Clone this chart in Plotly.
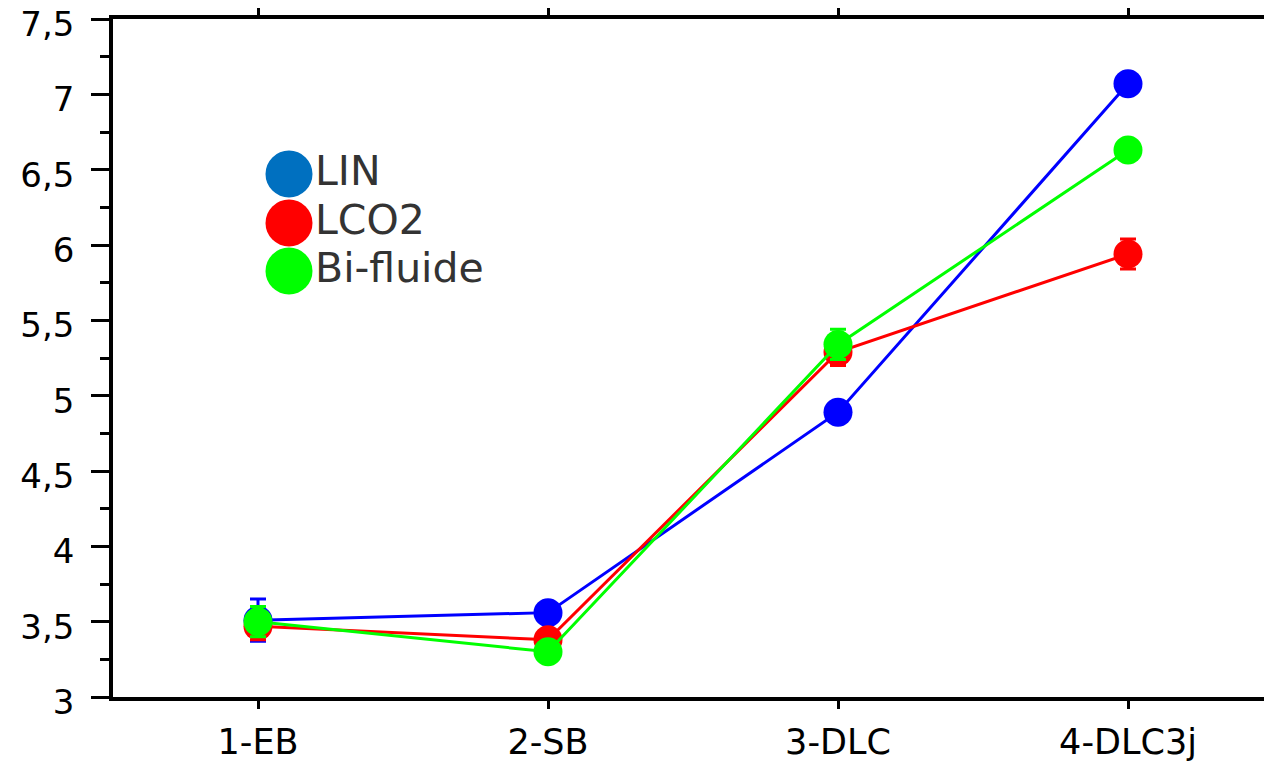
import plotly.graph_objects as go

categories = ["1-EB", "2-SB", "3-DLC", "4-DLC3j"]
series_names = ["LIN", "LCO2", "Bi-fluide"]
lin_values = [3.51, 3.56, 4.89, 7.07]
lin_err = [0.14, 0.03, 0.03, 0.03]
lco2_values = [3.47, 3.38, 5.29, 5.94]
lco2_err = [0.09, 0.03, 0.09, 0.10]
bi_values = [3.50, 3.30, 5.34, 6.63]
bi_err = [0.10, 0.03, 0.10, 0.03]
y_ticks = [3, 3.5, 4, 4.5, 5, 5.5, 6, 6.5, 7, 7.5]

line_colors = ["#0000FF", "#FF0000", "#00FF00"]
legend_colors = ["#0070C0", "#FF0000", "#00FF00"]

W, H = 1272, 763
OFF = 8  # page body margin offset
ML, MT = 113 - OFF, 19 - OFF
MR = W - (1273 - OFF)
MB = H - (697 - OFF)
FONT = "DejaVu Sans, Arial, Liberation Sans"

fig = go.Figure()
for name, vals, errs, col in zip(series_names, [lin_values, lco2_values, bi_values],
                                 [lin_err, lco2_err, bi_err], line_colors):
    fig.add_trace(go.Scatter(
        x=categories, y=vals, name=name, mode="lines+markers",
        line=dict(color=col, width=3),
        marker=dict(color=col, size=29, line=dict(width=0)),
        error_y=dict(type="data", array=errs, visible=True, color=col,
                     thickness=3, width=8),
        showlegend=False,
    ))

# manual legend (screen pixel positions converted to paper coords)
pw, ph = W - ML - MR, H - MT - MB
def px(x):
    return (x - OFF - ML) / pw
def py(y):
    return (H - MB - (y - OFF)) / ph

centers_y = [174, 223, 271]
r = 23.5
cx = 289
shapes = []
annotations = []
for name, col, cy in zip(series_names, legend_colors, centers_y):
    shapes.append(dict(type="circle", xref="paper", yref="paper",
                       x0=px(cx - r), x1=px(cx + r), y0=py(cy + r), y1=py(cy - r),
                       fillcolor=col, line=dict(width=0), layer="above"))
    annotations.append(dict(xref="paper", yref="paper", x=px(313), y=py(cy - 3),
                            xanchor="left", yanchor="middle", text=name, showarrow=False,
                            font=dict(family=FONT, size=41, color="#333333")))
# thin grey right frame line
shapes.append(dict(type="line", xref="paper", yref="paper", x0=px(1270), x1=px(1270),
                   y0=0, y1=1, line=dict(color="#c8c8c8", width=1.5)))

fig.update_layout(
    width=W, height=H,
    margin=dict(l=ML, r=MR, t=MT, b=MB),
    paper_bgcolor="white", plot_bgcolor="white",
    separators=", ",
    font=dict(family=FONT, color="black"),
    shapes=shapes, annotations=annotations,
    xaxis=dict(
        type="category", range=[-0.5, 3.5], automargin=False,
        showgrid=False, zeroline=False,
        showline=True, linecolor="black", linewidth=3.5, mirror="ticks",
        ticks="outside", ticklen=8, tickwidth=2.5, tickcolor="black",
        tickfont=dict(family=FONT, size=35, color="black"),
        ticklabelstandoff=3, ticklabeloverflow="allow",
    ),
    yaxis=dict(
        range=[3, 7.5], tickmode="array", tickvals=y_ticks,
        automargin=False,
        showgrid=False, zeroline=False,
        showline=True, linecolor="black", linewidth=3.5, mirror=False,
        ticks="outside", ticklen=18, tickwidth=2.5, tickcolor="black",
        tickfont=dict(family=FONT, size=34, color="black"),
        ticklabelstandoff=10, ticklabeloverflow="allow", ticklabelshift=5,
        minor=dict(dtick=0.25, tick0=3, ticks="outside", ticklen=9, tickwidth=2.5, tickcolor="black"),
    ),
)

fig.write_html("out.html")
